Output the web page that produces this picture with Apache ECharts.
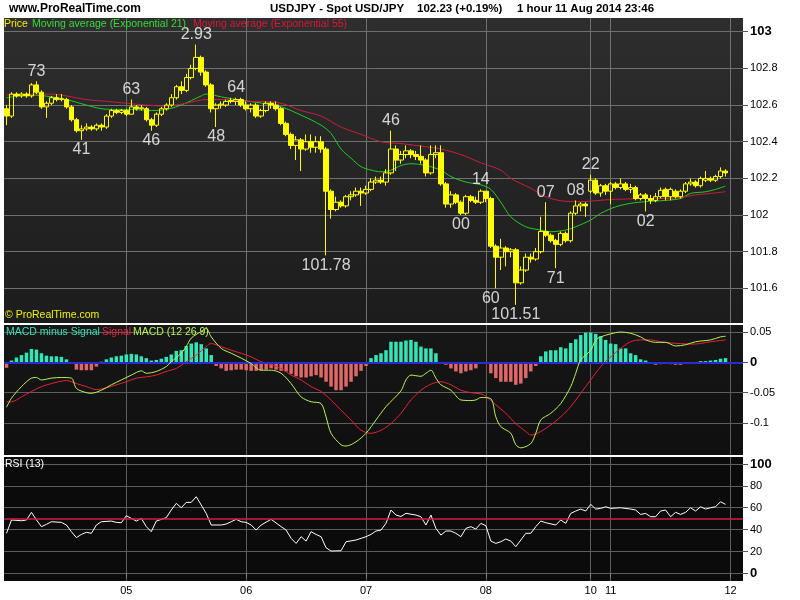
<!DOCTYPE html>
<html><head><meta charset="utf-8">
<script src="https://cdn.jsdelivr.net/npm/echarts@6/dist/echarts.min.js"></script>
<style>html,body{margin:0;padding:0;background:#fff}#c{width:800px;height:600px}</style>
</head><body><div id="c"></div>
<script>
// ---- time axis: trading sessions [day, firstHour, lastHour]
const sessions = [['04',0,23],['05',0,23],['06',0,23],['07',0,23],['08',0,20],['10',20,23],['11',0,23],['12',0,2]];

// ---- hourly candles (index 0 = 04 Aug 00:00)
const opens = [
102.58,102.54,102.66,102.65,102.66,102.65,102.71,102.67,102.59,102.61,
102.64,102.63,102.63,102.59,102.52,102.46,102.47,102.48,102.47,102.49,
102.48,102.54,102.57,102.56,102.57,102.55,102.59,102.58,102.58,102.52,
102.49,102.55,102.58,102.60,102.64,102.70,102.68,102.75,102.80,102.86,
102.78,102.71,102.58,102.60,102.60,102.62,102.62,102.63,102.60,102.58,
102.60,102.54,102.57,102.61,102.60,102.58,102.50,102.44,102.38,102.41,
102.36,102.40,102.37,102.40,102.36,102.13,102.03,102.07,102.05,102.10,
102.11,102.13,102.12,102.14,102.18,102.19,102.18,102.23,102.36,102.30,
102.33,102.35,102.33,102.32,102.30,102.23,102.33,102.34,102.17,102.06,
102.11,102.07,102.01,102.10,102.08,102.07,102.13,102.09,101.83,101.77,
101.82,101.80,101.81,101.63,101.70,101.77,101.76,101.80,101.91,101.89,
101.86,101.84,101.90,101.86,102.01,102.05,102.06,102.13,102.19,102.12,
102.16,102.13,102.17,102.15,102.17,102.14,102.15,102.09,102.11,102.09,
102.08,102.10,102.14,102.10,102.13,102.10,102.13,102.17,102.18,102.16,
102.19,102.20,102.19,102.21,102.24];
const closes = [
102.54,102.66,102.65,102.66,102.65,102.71,102.67,102.59,102.61,102.64,
102.63,102.635,102.59,102.52,102.46,102.47,102.48,102.47,102.49,102.48,
102.54,102.57,102.56,102.57,102.55,102.59,102.58,102.585,102.52,102.49,
102.55,102.58,102.60,102.64,102.70,102.68,102.75,102.80,102.86,102.78,
102.71,102.58,102.60,102.605,102.62,102.625,102.63,102.60,102.58,102.60,
102.54,102.57,102.61,102.60,102.58,102.50,102.44,102.38,102.41,102.36,
102.40,102.37,102.40,102.36,102.13,102.03,102.07,102.05,102.10,102.11,
102.13,102.12,102.14,102.18,102.19,102.18,102.23,102.36,102.30,102.33,
102.35,102.33,102.32,102.30,102.23,102.33,102.34,102.17,102.06,102.11,
102.07,102.01,102.10,102.08,102.07,102.13,102.09,101.83,101.77,101.82,
101.80,101.81,101.63,101.70,101.77,101.76,101.80,101.91,101.89,101.86,
101.84,101.90,101.86,102.01,102.05,102.06,102.05,102.19,102.12,102.16,
102.13,102.17,102.15,102.17,102.14,102.15,102.09,102.11,102.09,102.08,
102.10,102.135,102.10,102.14,102.10,102.13,102.17,102.18,102.16,102.20,
102.20,102.19,102.21,102.24,102.23];
const lows = [
102.49,102.53,102.64,102.64,102.64,102.64,102.66,102.58,102.53,102.60,
102.62,102.62,102.58,102.51,102.45,102.41,102.46,102.46,102.46,102.46,
102.47,102.53,102.55,102.55,102.54,102.55,102.57,102.57,102.51,102.46,
102.48,102.54,102.57,102.59,102.63,102.66,102.67,102.74,102.79,102.76,
102.70,102.56,102.48,102.58,102.59,102.61,102.60,102.59,102.57,102.56,
102.53,102.53,102.56,102.58,102.57,102.49,102.43,102.36,102.30,102.24,
102.35,102.34,102.34,102.34,101.78,101.98,102.02,102.04,102.04,102.08,
102.10,102.05,102.11,102.13,102.17,102.17,102.16,102.22,102.24,102.28,
102.31,102.31,102.30,102.28,102.21,102.22,102.31,102.16,102.04,102.04,
102.06,102.00,102.00,102.07,102.06,102.06,102.07,101.82,101.60,101.70,
101.72,101.77,101.51,101.62,101.69,101.74,101.75,101.79,101.88,101.85,
101.71,101.83,101.85,101.85,102.00,102.02,101.99,102.12,102.11,102.10,
102.11,102.06,102.14,102.14,102.13,102.12,102.08,102.08,102.02,102.06,
102.07,102.09,102.08,102.08,102.09,102.09,102.12,102.16,102.15,102.15,
102.18,102.18,102.18,102.20,102.21];
const highs = [
102.60,102.67,102.67,102.67,102.67,102.72,102.73,102.68,102.62,102.65,
102.66,102.66,102.64,102.60,102.53,102.49,102.50,102.49,102.50,102.50,
102.55,102.58,102.58,102.58,102.58,102.63,102.60,102.60,102.59,102.53,
102.56,102.59,102.61,102.66,102.71,102.73,102.77,102.82,102.93,102.87,
102.79,102.72,102.61,102.62,102.63,102.64,102.64,102.64,102.62,102.61,
102.61,102.58,102.62,102.62,102.62,102.59,102.51,102.45,102.43,102.42,
102.44,102.44,102.43,102.43,102.37,102.14,102.10,102.08,102.11,102.13,
102.15,102.15,102.16,102.20,102.21,102.21,102.25,102.46,102.38,102.35,
102.38,102.36,102.35,102.38,102.31,102.38,102.38,102.38,102.18,102.13,
102.12,102.08,102.11,102.11,102.10,102.14,102.13,102.10,101.84,101.87,
101.83,101.82,101.82,101.72,101.79,101.79,101.82,101.99,102.07,101.90,
101.87,101.91,101.91,102.02,102.08,102.07,102.07,102.22,102.20,102.17,
102.17,102.18,102.18,102.20,102.18,102.17,102.16,102.12,102.12,102.11,
102.12,102.15,102.15,102.15,102.14,102.14,102.18,102.20,102.19,102.21,
102.24,102.21,102.22,102.26,102.25];

// ---- moving averages: [candle index, value]
const ema21 = [[0,102.64],[5,102.655],[9,102.645],[12,102.63],[16,102.60],[19,102.58],[22,102.576],[25,102.576],[29,102.57],[32,102.576],[35,102.60],[39,102.65],[40,102.66],[43,102.645],[46,102.63],[50,102.615],[55,102.59],[59,102.545],[63,102.49],[65,102.445],[67,102.36],[69,102.31],[71,102.264],[73,102.245],[75,102.236],[77,102.245],[79,102.27],[81,102.28],[84,102.27],[87,102.245],[89,102.21],[92,102.18],[95,102.165],[97,102.14],[99,102.07],[101,101.99],[104,101.936],[107,101.918],[109,101.909],[112,101.918],[114,101.936],[117,101.973],[119,102.009],[122,102.045],[125,102.064],[128,102.073],[131,102.078],[135,102.09],[137,102.118],[140,102.127],[142,102.14],[144,102.158]];
const ema55 = [[0,102.655],[5,102.66],[9,102.66],[12,102.65],[16,102.63],[20,102.62],[24,102.61],[28,102.60],[32,102.595],[36,102.61],[40,102.63],[44,102.63],[48,102.62],[51,102.62],[55,102.61],[59,102.57],[63,102.54],[67,102.48],[71,102.44],[75,102.40],[79,102.39],[83,102.376],[87,102.36],[91,102.33],[95,102.285],[99,102.245],[101,102.20],[105,102.146],[108,102.10],[111,102.078],[115,102.073],[118,102.078],[121,102.085],[125,102.088],[128,102.09],[132,102.09],[135,102.096],[138,102.11],[141,102.118],[144,102.127]];

// ---- high / low annotations
const annotIdx   = [6,15,25,29,38,42,46,64,77,91,95,97,102,108,110,114,117,128];
const annotPrice = [102.73,102.41,102.63,102.46,102.93,102.48,102.64,101.78,102.46,102.00,102.14,101.60,101.51,102.07,101.71,102.08,102.22,102.02];
const annotText  = ['73','41','63','46','2.93','48','64','101.78','46','00','14','60','101.51','07','71','08','22','02'];
const annotPos   = ['top','bottom','top','bottom','top','bottom','top','bottom','top','bottom','top','bottom','bottom','top','bottom','top','top','bottom'];

// ---- MACD (12 26 9)
const macdHist = [
-0.009,0.003,0.008,0.012,0.016,0.022,0.021,0.015,0.011,0.010,
0.010,0.009,0.005,-0.001,-0.012,-0.013,-0.013,-0.013,-0.007,0.001,
0.005,0.008,0.010,0.011,0.013,0.014,0.013,0.010,0.007,0.003,
0.004,0.006,0.009,0.013,0.019,0.020,0.027,0.031,0.033,0.030,
0.023,0.012,-0.006,-0.010,-0.014,-0.013,-0.012,-0.012,-0.013,-0.014,
-0.014,-0.013,-0.012,-0.010,-0.012,-0.014,-0.015,-0.019,-0.023,-0.025,
-0.025,-0.023,-0.021,-0.025,-0.032,-0.040,-0.046,-0.046,-0.040,-0.032,
-0.023,-0.014,-0.006,0.007,0.012,0.015,0.020,0.034,0.034,0.034,
0.036,0.037,0.034,0.026,0.023,0.023,0.015,-0.002,-0.004,-0.010,
-0.015,-0.018,-0.015,-0.013,-0.010,-0.002,-0.002,-0.018,-0.026,-0.032,
-0.032,-0.032,-0.037,-0.035,-0.026,-0.015,-0.006,0.010,0.018,0.020,
0.020,0.025,0.023,0.032,0.038,0.045,0.049,0.049,0.047,0.043,
0.037,0.031,0.030,0.023,0.023,0.015,0.012,0.005,0.003,-0.002,
-0.004,-0.003,-0.002,-0.003,-0.004,-0.004,-0.002,-0.001,0.000,0.002,
0.002,0.003,0.004,0.006,0.007];
const macdLine = [[0,-0.074],[1,-0.059],[3,-0.040],[5,-0.026],[6,-0.025],[7,-0.029],[9,-0.026],[11,-0.025],[13,-0.026],[14,-0.043],[16,-0.050],[17,-0.051],[19,-0.046],[21,-0.037],[23,-0.029],[25,-0.021],[27,-0.014],[28,-0.018],[30,-0.015],[32,-0.007],[33,0.001],[35,0.015],[36,0.026],[37,0.040],[39,0.051],[40,0.056],[41,0.042],[43,0.023],[45,0.015],[47,0.007],[49,-0.002],[51,-0.013],[53,-0.013],[55,-0.018],[57,-0.035],[59,-0.057],[61,-0.065],[63,-0.068],[64,-0.090],[65,-0.117],[67,-0.136],[68,-0.138],[70,-0.131],[72,-0.117],[74,-0.095],[76,-0.073],[79,-0.047],[80,-0.029],[81,-0.021],[83,-0.023],[84,-0.018],[85,-0.013],[86,-0.026],[87,-0.037],[89,-0.046],[91,-0.062],[93,-0.063],[94,-0.062],[95,-0.058],[97,-0.060],[98,-0.090],[99,-0.106],[101,-0.117],[102,-0.136],[103,-0.141],[105,-0.134],[106,-0.117],[107,-0.095],[109,-0.084],[111,-0.068],[113,-0.040],[114,-0.018],[115,0.004],[117,0.020],[118,0.037],[119,0.042],[121,0.047],[123,0.050],[125,0.048],[127,0.042],[128,0.037],[130,0.033],[132,0.033],[134,0.027],[136,0.029],[138,0.034],[141,0.037],[143,0.042],[144,0.043]];
const signalLine = [[0,-0.065],[1,-0.065],[3,-0.057],[5,-0.048],[7,-0.040],[9,-0.035],[12,-0.030],[14,-0.035],[16,-0.040],[18,-0.045],[20,-0.042],[22,-0.037],[24,-0.032],[26,-0.026],[28,-0.024],[30,-0.021],[32,-0.015],[34,-0.010],[36,0.001],[38,0.012],[40,0.026],[41,0.031],[43,0.026],[45,0.020],[47,0.015],[49,0.009],[51,0.001],[53,-0.004],[55,-0.010],[57,-0.021],[59,-0.029],[61,-0.040],[63,-0.048],[65,-0.062],[67,-0.079],[69,-0.095],[71,-0.112],[73,-0.117],[75,-0.112],[77,-0.101],[79,-0.084],[81,-0.062],[83,-0.046],[85,-0.036],[87,-0.032],[89,-0.037],[91,-0.046],[93,-0.050],[95,-0.052],[96,-0.056],[98,-0.070],[100,-0.084],[102,-0.101],[104,-0.114],[105,-0.120],[107,-0.114],[109,-0.103],[111,-0.090],[113,-0.073],[115,-0.051],[117,-0.029],[119,-0.007],[121,0.009],[123,0.023],[125,0.034],[127,0.037],[129,0.037],[131,0.034],[133,0.032],[135,0.031],[137,0.030],[139,0.031],[141,0.034],[143,0.036],[144,0.037]];

// ---- RSI (13)
const rsi = [[0,36.6],[1,48.8],[3,48.1],[4,48.8],[5,55.8],[6,48.8],[7,42.7],[8,44.8],[9,47.2],[11,46.6],[12,44.2],[13,38.1],[14,32.6],[15,35.6],[16,37.5],[17,36.6],[18,44.2],[19,47.2],[21,47.8],[22,46.6],[23,46.3],[24,52.7],[25,50.3],[26,47.8],[27,50.3],[28,42.7],[29,38.1],[30,47.8],[32,50.9],[33,57.9],[34,64.0],[35,60.0],[36,64.9],[37,64.9],[38,70.1],[39,62.5],[40,54.8],[41,44.2],[43,44.2],[44,45.1],[45,47.2],[46,49.4],[47,47.2],[48,46.6],[49,44.2],[50,39.6],[51,44.2],[53,49.4],[55,42.7],[56,39.6],[57,32.0],[58,27.4],[59,33.5],[60,29.5],[61,38.1],[62,35.6],[63,33.5],[64,23.4],[65,20.4],[67,20.7],[68,28.9],[70,30.5],[71,32.0],[72,33.5],[73,35.6],[74,38.7],[75,39.6],[76,45.7],[77,57.9],[78,53.3],[79,52.0],[80,54.9],[82,53.3],[83,51.8],[84,44.2],[85,53.3],[86,41.1],[87,35.0],[88,38.7],[89,38.7],[90,36.6],[91,33.5],[92,41.1],[93,42.7],[94,40.5],[95,45.7],[96,43.6],[97,29.5],[98,27.4],[99,28.9],[100,31.4],[101,29.5],[102,24.4],[103,30.5],[104,36.6],[105,36.6],[106,42.7],[107,47.8],[108,46.3],[110,44.2],[111,48.8],[112,45.7],[113,54.8],[114,57.0],[115,58.8],[116,57.0],[117,63.1],[118,58.8],[119,59.4],[120,60.9],[121,59.4],[123,60.0],[125,58.8],[126,57.9],[127,53.9],[128,54.8],[129,51.8],[130,51.8],[131,57.0],[132,57.9],[133,51.8],[134,55.8],[135,53.9],[136,55.8],[137,60.0],[138,57.0],[139,60.9],[140,58.8],[141,60.0],[142,60.9],[143,65.5],[144,63.1]];

// ---- axis tick labels
const priceTicks = [101.6,101.8,102,102.2,102.4,102.6,102.8,103];
const priceBold = [103];
const macdTicks = [-0.1,-0.05,0,0.05];
const macdBold = [0];
const rsiTicks = [0,20,40,60,80,100];
const rsiBold = [0,100];

// ---------------------------------------------------------------
const categories = [];
sessions.forEach(([d,h0,h1]) => { for (let h=h0; h<=h1; h++) categories.push(d + ' ' + String(h).padStart(2,'0') + ':00'); });
const isDayStart = (i) => i > 0 && categories[i].slice(0,2) !== categories[i-1].slice(0,2);
const FONT = '"Liberation Sans", Arial, sans-serif';
const GRID_L = 4, GRID_R = 57;

function xAx(g, showLabel, lineColor) {
  return {
    type:'category', gridIndex:g, data:categories, boundaryGap:true,
    axisLine:{show:false},
    axisTick:{show:showLabel, alignWithLabel:true, interval:(i)=>isDayStart(i), length:4, lineStyle:{color:'#888'}},
    axisLabel:{show:showLabel, interval:(i)=>isDayStart(i), formatter:(v)=>v.slice(0,2), color:'#000', fontSize:11, fontFamily:FONT, margin:4},
    splitLine:{show:true, alignWithLabel:true, interval:(i)=>isDayStart(i), lineStyle:{color:lineColor, width:1}}
  };
}
function yAx(g, min, max, ticks, bolds, lineColor) {
  return {
    type:'value', gridIndex:g, position:'right', min:min, max:max,
    axisLine:{show:false},
    axisTick:{show:true, customValues:ticks, length:5, lineStyle:{color:'#555'}},
    axisLabel:{customValues:ticks, margin:7, color:'#000', fontSize:11, fontFamily:FONT,
      formatter:(v)=> bolds.indexOf(v) >= 0 ? '{b|' + v + '}' : String(v),
      rich:{b:{fontWeight:'bold', fontSize:13, fontFamily:FONT, color:'#000'}}},
    splitLine:{show:true, lineStyle:{color:lineColor, width:1}}
  };
}
const grad = (a,b) => new echarts.graphic.LinearGradient(0,0,0,1,[{offset:0,color:a},{offset:1,color:b}]);

const candleData = opens.map((o,i) => [o, closes[i], lows[i], highs[i]]);
const annotData = annotIdx.map((x,i) => ({value:[x, annotPrice[i]], name:annotText[i], label:{position:annotPos[i]}}));

const txt = (left, top, text, fill, font) => ({type:'text', left:left, top:top, silent:true, z:100, style:{text:text, fill:fill, font:font}});
const TF = 'bold 11.5px ' + FONT;
const LF = '10.5px ' + FONT;

const option = {
  animation:false,
  backgroundColor:'#ffffff',
  grid:[
    {left:GRID_L, right:GRID_R, top:18, height:305, show:true, borderWidth:0, backgroundColor:grad('#2e2e2e','#1c1c1c')},
    {left:GRID_L, right:GRID_R, top:325, height:130, show:true, borderWidth:0, backgroundColor:grad('#171717','#0f0f0f')},
    {left:GRID_L, right:GRID_R, top:457, height:124, show:true, borderWidth:0, backgroundColor:'#0b0b0b'}
  ],
  xAxis:[xAx(0,false,'#707070'), xAx(1,false,'#5e5e5e'), xAx(2,true,'#5e5e5e')],
  yAxis:[
    yAx(0, 101.411, 103.075, priceTicks, priceBold, '#707070'),
    yAx(1, -0.1528, 0.0616, macdTicks, macdBold, '#5e5e5e'),
    yAx(2, -7.0, 106.4, rsiTicks, rsiBold, '#5e5e5e')
  ],
  series:[
    {type:'line', name:'EMA21', xAxisIndex:0, yAxisIndex:0, data:ema21, symbol:'none', smooth:0.3, z:3,
      lineStyle:{color:'#22cc22', width:1}},
    {type:'line', name:'EMA55', xAxisIndex:0, yAxisIndex:0, data:ema55, symbol:'none', smooth:0.3, z:3,
      lineStyle:{color:'#cc1c3c', width:1}},
    {type:'candlestick', name:'Price', xAxisIndex:0, yAxisIndex:0, data:candleData, barWidth:5, z:4,
      itemStyle:{color:'rgba(0,0,0,0)', color0:'#ffff00', borderColor:'#ffff00', borderColor0:'#ffff00', borderColorDoji:'#ffff00', borderWidth:1}},
    {type:'scatter', xAxisIndex:0, yAxisIndex:0, data:annotData, symbolSize:0, z:6, silent:true,
      label:{show:true, formatter:(p)=>p.name, color:'#ffffff', fontSize:16, fontFamily:FONT, distance:2}},
    {type:'bar', name:'MACD minus Signal', xAxisIndex:1, yAxisIndex:1, data:macdHist, barWidth:3.5,
      itemStyle:{color:(p)=> p.value >= 0 ? '#33e6b8' : '#e06868'},
      markLine:{silent:true, symbol:'none', label:{show:false}, lineStyle:{color:'#2a2ad2', width:2, type:'solid'}, data:[{yAxis:0}]}},
    {type:'line', name:'Signal', xAxisIndex:1, yAxisIndex:1, data:signalLine, symbol:'none', smooth:0.3, z:4,
      lineStyle:{color:'#e8203c', width:1}},
    {type:'line', name:'MACD', xAxisIndex:1, yAxisIndex:1, data:macdLine, symbol:'none', smooth:0.3, z:5,
      lineStyle:{color:'#b8f550', width:1}},
    {type:'line', name:'RSI', xAxisIndex:2, yAxisIndex:2, data:rsi, symbol:'none', z:4,
      lineStyle:{color:'#ffffff', width:1},
      markLine:{silent:true, symbol:'none', label:{show:false}, lineStyle:{color:'#d21e3c', width:1.5, type:'solid'}, data:[{yAxis:50}]}}
  ],
  graphic:[
    txt(9, 3, 'www.ProRealTime.com', '#000', 'bold 12px ' + FONT),
    txt(270, 3, 'USDJPY - Spot USD/JPY', '#000', TF),
    txt(417, 3, '102.23 (+0.19%)', '#000', TF),
    txt(517, 3, '1 hour', '#000', TF),
    txt(555, 3, '11 Aug 2014 23:46', '#000', TF),
    txt(4, 19, 'Price', '#f0f000', LF),
    txt(32, 19, 'Moving average (Exponential 21)', '#33dd33', LF),
    txt(193, 19, 'Moving average (Exponential 55)', '#e0143c', LF),
    txt(5, 310, '\u00a9 ProRealTime.com', '#f0f000', LF),
    txt(6, 327, 'MACD minus Signal', '#33e3b5', LF),
    txt(102, 327, 'Signal', '#e8203c', LF),
    txt(133, 327, 'MACD (12 26 9)', '#b8f550', LF),
    txt(5, 459, 'RSI (13)', '#ffffff', LF)
  ]
};
const chart = echarts.init(document.getElementById('c'));
chart.setOption(option);
</script>
</body></html>
